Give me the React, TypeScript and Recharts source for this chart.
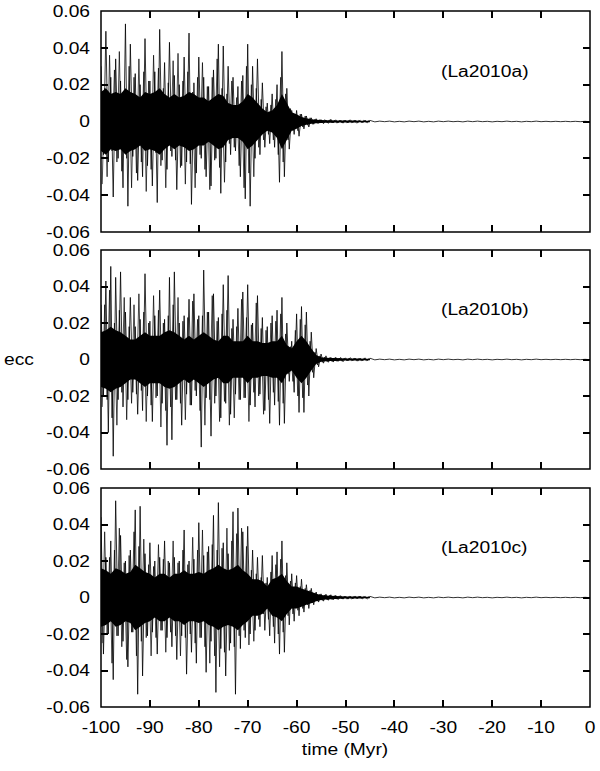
import { ComposedChart, Line, Area, XAxis, YAxis, ReferenceArea } from 'recharts';

const xTicks = [-100, -90, -80, -70, -60, -50, -40, -30, -20, -10, 0];
const yTicks = [-0.06, -0.04, -0.02, 0, 0.02, 0.04, 0.06];

// eccentricity swings, one value every 0.5 Myr from -100 to -45
const eccA = [
  0.030, -0.018, 0.049, -0.022, 0.024, -0.041, 0.034, -0.020, 0.022, -0.036,
  0.053, -0.046, 0.042, -0.019, 0.026, -0.032, 0.020, -0.030, 0.045, -0.024,
  0.022, -0.035, 0.027, -0.044, 0.050, -0.021, 0.032, -0.026, 0.043, -0.019,
  0.025, -0.037, 0.020, -0.024, 0.035, -0.022, 0.048, -0.045, 0.021, -0.028,
  0.035, -0.020, 0.024, -0.030, 0.019, -0.035, 0.028, -0.020, 0.042, -0.039,
  0.041, -0.022, 0.030, -0.018, 0.024, -0.016, 0.019, -0.030, 0.025, -0.042,
  0.042, -0.046, 0.030, -0.020, 0.034, -0.018, 0.021, -0.014, 0.010, -0.012,
  0.015, -0.014, 0.020, -0.033, 0.038, -0.030, 0.018, -0.015, 0.006, -0.007,
  0.006, -0.008, 0.004, -0.004, 0.003, -0.003, 0.002, -0.0015, 0.0015, -0.001,
  0.001, -0.0012, 0.0008, -0.001, 0.0012, -0.0008, 0.0009, -0.0007, 0.0008, -0.0009,
  0.0007, -0.0008, 0.0009, -0.0006, 0.0008, -0.0007, 0.0006, -0.0008, 0.0007, -0.0006,
  0.0006,
];
const eccB = [
  0.030, -0.020, 0.043, -0.040, 0.051, -0.053, 0.045, -0.022, 0.048, -0.026,
  0.026, -0.022, 0.034, -0.018, 0.018, -0.030, 0.022, -0.028, 0.047, -0.020,
  0.021, -0.034, 0.024, -0.020, 0.038, -0.024, 0.022, -0.047, 0.045, -0.044,
  0.048, -0.022, 0.020, -0.036, 0.024, -0.019, 0.033, -0.025, 0.036, -0.020,
  0.024, -0.048, 0.049, -0.021, 0.026, -0.042, 0.036, -0.020, 0.023, -0.032,
  0.041, -0.024, 0.046, -0.030, 0.022, -0.019, 0.028, -0.022, 0.037, -0.021,
  0.041, -0.025, 0.020, -0.026, 0.035, -0.019, 0.023, -0.028, 0.018, -0.035,
  0.024, -0.025, 0.027, -0.036, 0.034, -0.035, 0.020, -0.012, 0.010, -0.018,
  0.025, -0.029, 0.029, -0.029, 0.026, -0.020, 0.015, -0.010, 0.006, -0.004,
  0.003, -0.002, 0.002, -0.0015, 0.0012, -0.0014, 0.0012, -0.001, 0.0011, -0.0012,
  0.0009, -0.0008, 0.0010, -0.0007, 0.0008, -0.0009, 0.0007, -0.0008, 0.0009, -0.0007,
  0.0007,
];
const eccC = [
  0.044, -0.031, 0.022, -0.020, 0.031, -0.045, 0.053, -0.021, 0.034, -0.024,
  0.020, -0.038, 0.026, -0.019, 0.048, -0.053, 0.050, -0.043, 0.024, -0.021,
  0.030, -0.019, 0.020, -0.031, 0.022, -0.018, 0.031, -0.022, 0.019, -0.027,
  0.022, -0.034, 0.020, -0.021, 0.037, -0.042, 0.020, -0.030, 0.021, -0.036,
  0.041, -0.022, 0.023, -0.041, 0.028, -0.024, 0.045, -0.052, 0.052, -0.028,
  0.030, -0.043, 0.024, -0.025, 0.047, -0.053, 0.049, -0.028, 0.036, -0.022,
  0.039, -0.020, 0.026, -0.018, 0.022, -0.016, 0.023, -0.018, 0.011, -0.021,
  0.023, -0.025, 0.025, -0.031, 0.031, -0.030, 0.019, -0.015, 0.013, -0.013,
  0.012, -0.010, 0.010, -0.008, 0.007, -0.006, 0.005, -0.004, 0.003, -0.0025,
  0.002, -0.002, 0.0018, -0.0015, 0.0015, -0.0012, 0.0012, -0.0011, 0.0010, -0.0009,
  0.0008, -0.0009, 0.0007, -0.0008, 0.0007, -0.0006, 0.0008, -0.0007, 0.0006, -0.0007,
  0.0006,
];

// in-between swings, one value every 0.5 Myr from -99.75 to -45.25
const midA = [
  -0.034, 0.018, -0.030, 0.036, -0.016, 0.028, -0.022, 0.038, -0.027, 0.015,
  -0.020, 0.030, -0.036, 0.024, -0.028, 0.034, -0.022, 0.027, -0.038, 0.022,
  -0.026, 0.036, -0.017, 0.029, -0.024, 0.018, -0.036, 0.021, -0.016, 0.033,
  -0.021, 0.037, -0.025, 0.022, -0.034, 0.027, -0.023, 0.016, -0.036, 0.024,
  -0.018, 0.032, -0.026, 0.019, -0.037, 0.024, -0.021, 0.034, -0.025, 0.018,
  -0.033, 0.015, -0.012, 0.022, -0.014, 0.013, -0.024, 0.022, -0.036, 0.030,
  -0.028, 0.020, -0.030, 0.018, -0.014, 0.012, -0.010, 0.008, -0.007, 0.009,
  -0.010, 0.012, -0.018, 0.024, -0.022, 0.015, -0.010, 0.007, -0.005, 0.004,
  -0.005, 0.004, -0.003, 0.003, -0.002, 0.002, -0.0015, 0.0012, -0.001, 0.001,
  -0.0008, 0.001, -0.0007, 0.0009, -0.0008, 0.0007, -0.0009, 0.0006, -0.0007, 0.0008,
  -0.0006, 0.0007, -0.0006, 0.0005, -0.0007, 0.0006, -0.0005, 0.0006, -0.0005, 0.0005,
];
const midB = [
  -0.026, 0.030, -0.022, 0.038, -0.032, 0.020, -0.036, 0.027, -0.018, 0.034,
  -0.033, 0.018, -0.024, 0.030, -0.019, 0.036, -0.017, 0.026, -0.034, 0.020,
  -0.025, 0.035, -0.021, 0.027, -0.037, 0.020, -0.028, 0.024, -0.026, 0.030,
  -0.022, 0.034, -0.024, 0.021, -0.033, 0.023, -0.025, 0.032, -0.017, 0.022,
  -0.028, 0.024, -0.036, 0.026, -0.022, 0.035, -0.024, 0.021, -0.034, 0.025,
  -0.023, 0.027, -0.036, 0.017, -0.032, 0.018, -0.022, 0.033, -0.021, 0.023,
  -0.034, 0.019, -0.018, 0.031, -0.020, 0.017, -0.030, 0.016, -0.022, 0.020,
  -0.018, 0.021, -0.023, 0.025, -0.024, 0.014, -0.008, 0.007, -0.012, 0.016,
  -0.020, 0.022, -0.021, 0.019, -0.014, 0.010, -0.007, 0.004, -0.003, 0.002,
  -0.0015, 0.0013, -0.0012, 0.001, -0.0011, 0.0009, -0.001, 0.0008, -0.0009, 0.0008,
  -0.0007, 0.0008, -0.0006, 0.0007, -0.0006, 0.0005, -0.0006, 0.0005, -0.0006, 0.0005,
];
const midC = [
  -0.025, 0.036, -0.020, 0.022, -0.036, 0.026, -0.021, 0.038, -0.027, 0.019,
  -0.034, 0.023, -0.019, 0.036, -0.032, 0.028, -0.024, 0.032, -0.022, 0.018,
  -0.032, 0.017, -0.022, 0.029, -0.018, 0.021, -0.030, 0.020, -0.019, 0.031,
  -0.021, 0.019, -0.032, 0.026, -0.022, 0.018, -0.020, 0.033, -0.025, 0.026,
  -0.022, 0.037, -0.027, 0.025, -0.036, 0.029, -0.032, 0.026, -0.038, 0.027,
  -0.030, 0.038, -0.029, 0.031, -0.027, 0.035, -0.021, 0.038, -0.018, 0.028,
  -0.026, 0.015, -0.024, 0.013, -0.012, 0.011, -0.009, 0.008, -0.012, 0.014,
  -0.016, 0.018, -0.020, 0.021, -0.019, 0.012, -0.010, 0.009, -0.009, 0.008,
  -0.007, 0.006, -0.006, 0.005, -0.004, 0.004, -0.003, 0.0025, -0.002, 0.0018,
  -0.0016, 0.0014, -0.0013, 0.0012, -0.0011, 0.001, -0.0009, 0.0009, -0.0008, 0.0007,
  -0.0007, 0.0006, -0.0007, 0.0006, -0.0005, 0.0006, -0.0005, 0.0005, -0.0005, 0.0005,
];

// half width of the dense black core, one value per Myr from -100 to -45
const coreA = [
  0.016, 0.018, 0.015, 0.016, 0.015, 0.018, 0.016, 0.015, 0.013, 0.016,
  0.015, 0.016, 0.018, 0.015, 0.013, 0.015, 0.013, 0.014, 0.016, 0.015,
  0.013, 0.013, 0.011, 0.013, 0.015, 0.014, 0.010, 0.009, 0.009, 0.011,
  0.015, 0.013, 0.010, 0.007, 0.005, 0.006, 0.009, 0.015, 0.010, 0.005,
  0.004, 0.0025, 0.0018, 0.0012, 0.0009, 0.0008, 0.0007, 0.0007, 0.0006, 0.0006,
  0.0005, 0.0005, 0.0005, 0.0004, 0.0004, 0.0004,
];
const coreB = [
  0.015, 0.016, 0.018, 0.016, 0.015, 0.013, 0.011, 0.011, 0.013, 0.015,
  0.013, 0.013, 0.013, 0.015, 0.016, 0.015, 0.013, 0.011, 0.013, 0.011,
  0.013, 0.015, 0.013, 0.011, 0.010, 0.013, 0.013, 0.010, 0.010, 0.010,
  0.013, 0.010, 0.010, 0.009, 0.009, 0.010, 0.010, 0.013, 0.008, 0.006,
  0.010, 0.013, 0.010, 0.006, 0.0025, 0.0012, 0.0009, 0.0008, 0.0008, 0.0007,
  0.0006, 0.0006, 0.0005, 0.0005, 0.0004, 0.0004,
];
const coreC = [
  0.016, 0.015, 0.013, 0.016, 0.015, 0.013, 0.014, 0.018, 0.016, 0.014,
  0.013, 0.011, 0.013, 0.013, 0.011, 0.013, 0.013, 0.015, 0.013, 0.013,
  0.014, 0.013, 0.015, 0.016, 0.018, 0.016, 0.015, 0.016, 0.018, 0.015,
  0.013, 0.010, 0.010, 0.009, 0.006, 0.010, 0.011, 0.013, 0.009, 0.006,
  0.006, 0.005, 0.004, 0.0032, 0.002, 0.0014, 0.0011, 0.0009, 0.0008, 0.0007,
  0.0006, 0.0006, 0.0005, 0.0005, 0.0004, 0.0004,
];

// quiet tail, one value per Myr from -44 to 0
const tail = [
  -0.0002, 0.0002, -0.0001, 0.0002, -0.0002, 0.0001, -0.0002, 0.0002, -0.0001, 0.0002,
  -0.0002, 0.0001, -0.0002, 0.0002, -0.0001, 0.0002, -0.0001, 0.0001, -0.0002, 0.0002,
  -0.0001, 0.0002, -0.0001, 0.0001, -0.0002, 0.0001, -0.0001, 0.0002, -0.0001, 0.0001,
  -0.0002, 0.0001, -0.0001, 0.0002, -0.0001, 0.0001, -0.0001, 0.0001, -0.0001, 0.0001,
  -0.0001, 0.0001, -0.0001, 0.0001, -0.0001,
];

const FONT = '"Liberation Sans", Arial, Helvetica, sans-serif';
const LEFT = 101;
const RIGHT_GAP = 10;
const PLOT_W = 600 - LEFT - RIGHT_GAP;
const TICK = 7;
const TICK_W = 2;

function YTick({ x, y, payload }: any) {
  return (
    <text x={x} y={y} dy="0.36em" textAnchor="end" fontSize={16} fontFamily={FONT} fill="#000"
      transform={`translate(${x} 0) scale(1.2 1) translate(${-x} 0)`}>
      {String(payload.value)}
    </text>
  );
}

function XTick({ x, y, payload }: any) {
  return (
    <text x={x} y={y} dy="0.71em" textAnchor="middle" fontSize={16} fontFamily={FONT} fill="#000"
      transform={`translate(${x} 0) scale(1.2 1) translate(${-x} 0)`}>
      {String(payload.value)}
    </text>
  );
}

// gnuplot style inward tick marks on all four sides of a panel frame
function FrameTicks({ plotTop, plotH }: { plotTop: number; plotH: number }) {
  const mark = { position: 'absolute' as const, background: '#000' };
  const xs = xTicks.slice(1, -1).map((v) => Math.round(LEFT + ((v + 100) / 100) * PLOT_W));
  const ys = yTicks.slice(1, -1).map((v) => Math.round(plotTop + ((0.06 - v) / 0.12) * plotH));
  return (
    <>
      {xs.map((x) => (
        <div key={`b${x}`} style={{ ...mark, left: x - TICK_W / 2, top: plotTop + plotH - TICK, width: TICK_W, height: TICK }} />
      ))}
      {xs.map((x) => (
        <div key={`t${x}`} style={{ ...mark, left: x - TICK_W / 2, top: plotTop, width: TICK_W, height: TICK }} />
      ))}
      {ys.map((y) => (
        <div key={`l${y}`} style={{ ...mark, left: LEFT, top: y - TICK_W / 2, width: TICK, height: TICK_W }} />
      ))}
      {ys.map((y) => (
        <div key={`r${y}`} style={{ ...mark, left: LEFT + PLOT_W - TICK, top: y - TICK_W / 2, width: TICK, height: TICK_W }} />
      ))}
    </>
  );
}

interface PanelProps {
  ecc: number[];
  mid: number[];
  core: number[];
  top: number;
  height: number;
  mTop: number;
  mBottom: number;
  showX: boolean;
}

function Panel({ ecc, mid, core, top, height, mTop, mBottom, showX }: PanelProps) {
  const line = [
    ...ecc.map((v, i) => ({ t: -100 + i * 0.5, v })),
    ...tail.map((v, i) => ({ t: -44 + i, v })),
  ];
  const between = mid.map((v, i) => ({ t: -99.75 + i * 0.5, v }));
  const band = core.map((w, i) => ({ t: -100 + i, band: [-w, w] }));
  const xAxisH = showX ? 52 : 1;
  const plotH = height - mTop - mBottom - xAxisH;

  return (
    <>
      <div style={{ position: 'absolute', left: 0, top }}>
        <ComposedChart width={600} height={height} margin={{ top: mTop, right: RIGHT_GAP, bottom: mBottom, left: 0 }}>
          <XAxis xAxisId="b" type="number" dataKey="t" domain={[-100, 0]} ticks={xTicks} interval={0}
            allowDataOverflow height={xAxisH} tickSize={0} tickMargin={15}
            tick={showX ? (p: any) => <XTick {...p} /> : false} axisLine={false} tickLine={false} />
          <YAxis yAxisId="l" type="number" domain={[-0.06, 0.06]} ticks={yTicks} interval={0}
            allowDataOverflow width={LEFT} tickSize={0} tickMargin={11}
            tick={(p: any) => <YTick {...p} />} axisLine={false} tickLine={false} />
          <Area xAxisId="b" yAxisId="l" data={band} dataKey="band" type="linear" fill="#000" fillOpacity={1}
            stroke="none" dot={false} activeDot={false} isAnimationActive={false} />
          <Line xAxisId="b" yAxisId="l" data={between} dataKey="v" type="linear" stroke="#000" strokeWidth={0.7}
            dot={false} activeDot={false} isAnimationActive={false} />
          <Line xAxisId="b" yAxisId="l" data={line} dataKey="v" type="linear" stroke="#000" strokeWidth={0.8}
            dot={false} activeDot={false} isAnimationActive={false} />
          <ReferenceArea xAxisId="b" yAxisId="l" x1={-100} x2={0} y1={-0.06} y2={0.06} fill="none" fillOpacity={0}
            stroke="#000" strokeWidth={1.5} ifOverflow="visible" />
        </ComposedChart>
      </div>
      <FrameTicks plotTop={top + mTop} plotH={plotH} />
    </>
  );
}

const textStyle = { position: 'absolute' as const, fontFamily: FONT, fontSize: 16, lineHeight: '16px', color: '#000', whiteSpace: 'nowrap' as const };

export default function App() {
  return (
    <div style={{ position: 'absolute', left: 0, top: 0, width: 600, height: 771, background: '#fff', overflow: 'hidden' }}>
      <Panel ecc={eccA} mid={midA} core={coreA} top={0} height={241} mTop={11} mBottom={8} showX={false} />
      <Panel ecc={eccB} mid={midB} core={coreB} top={241} height={238} mTop={9} mBottom={9} showX={false} />
      <Panel ecc={eccC} mid={midC} core={coreC} top={479} height={292} mTop={9} mBottom={12} showX={true} />

      <div style={{ ...textStyle, left: 441, top: 64, transform: 'scaleX(1.2)', transformOrigin: 'left center' }}>(La2010a)</div>
      <div style={{ ...textStyle, left: 441, top: 302, transform: 'scaleX(1.2)', transformOrigin: 'left center' }}>(La2010b)</div>
      <div style={{ ...textStyle, left: 441, top: 540, transform: 'scaleX(1.2)', transformOrigin: 'left center' }}>(La2010c)</div>

      <div style={{ ...textStyle, left: 4, top: 352, transform: 'scaleX(1.2)', transformOrigin: 'left center' }}>ecc</div>
      <div style={{ ...textStyle, left: 245, width: 200, textAlign: 'center', top: 742, transform: 'scaleX(1.2)', transformOrigin: 'center' }}>time (Myr)</div>
    </div>
  );
}
